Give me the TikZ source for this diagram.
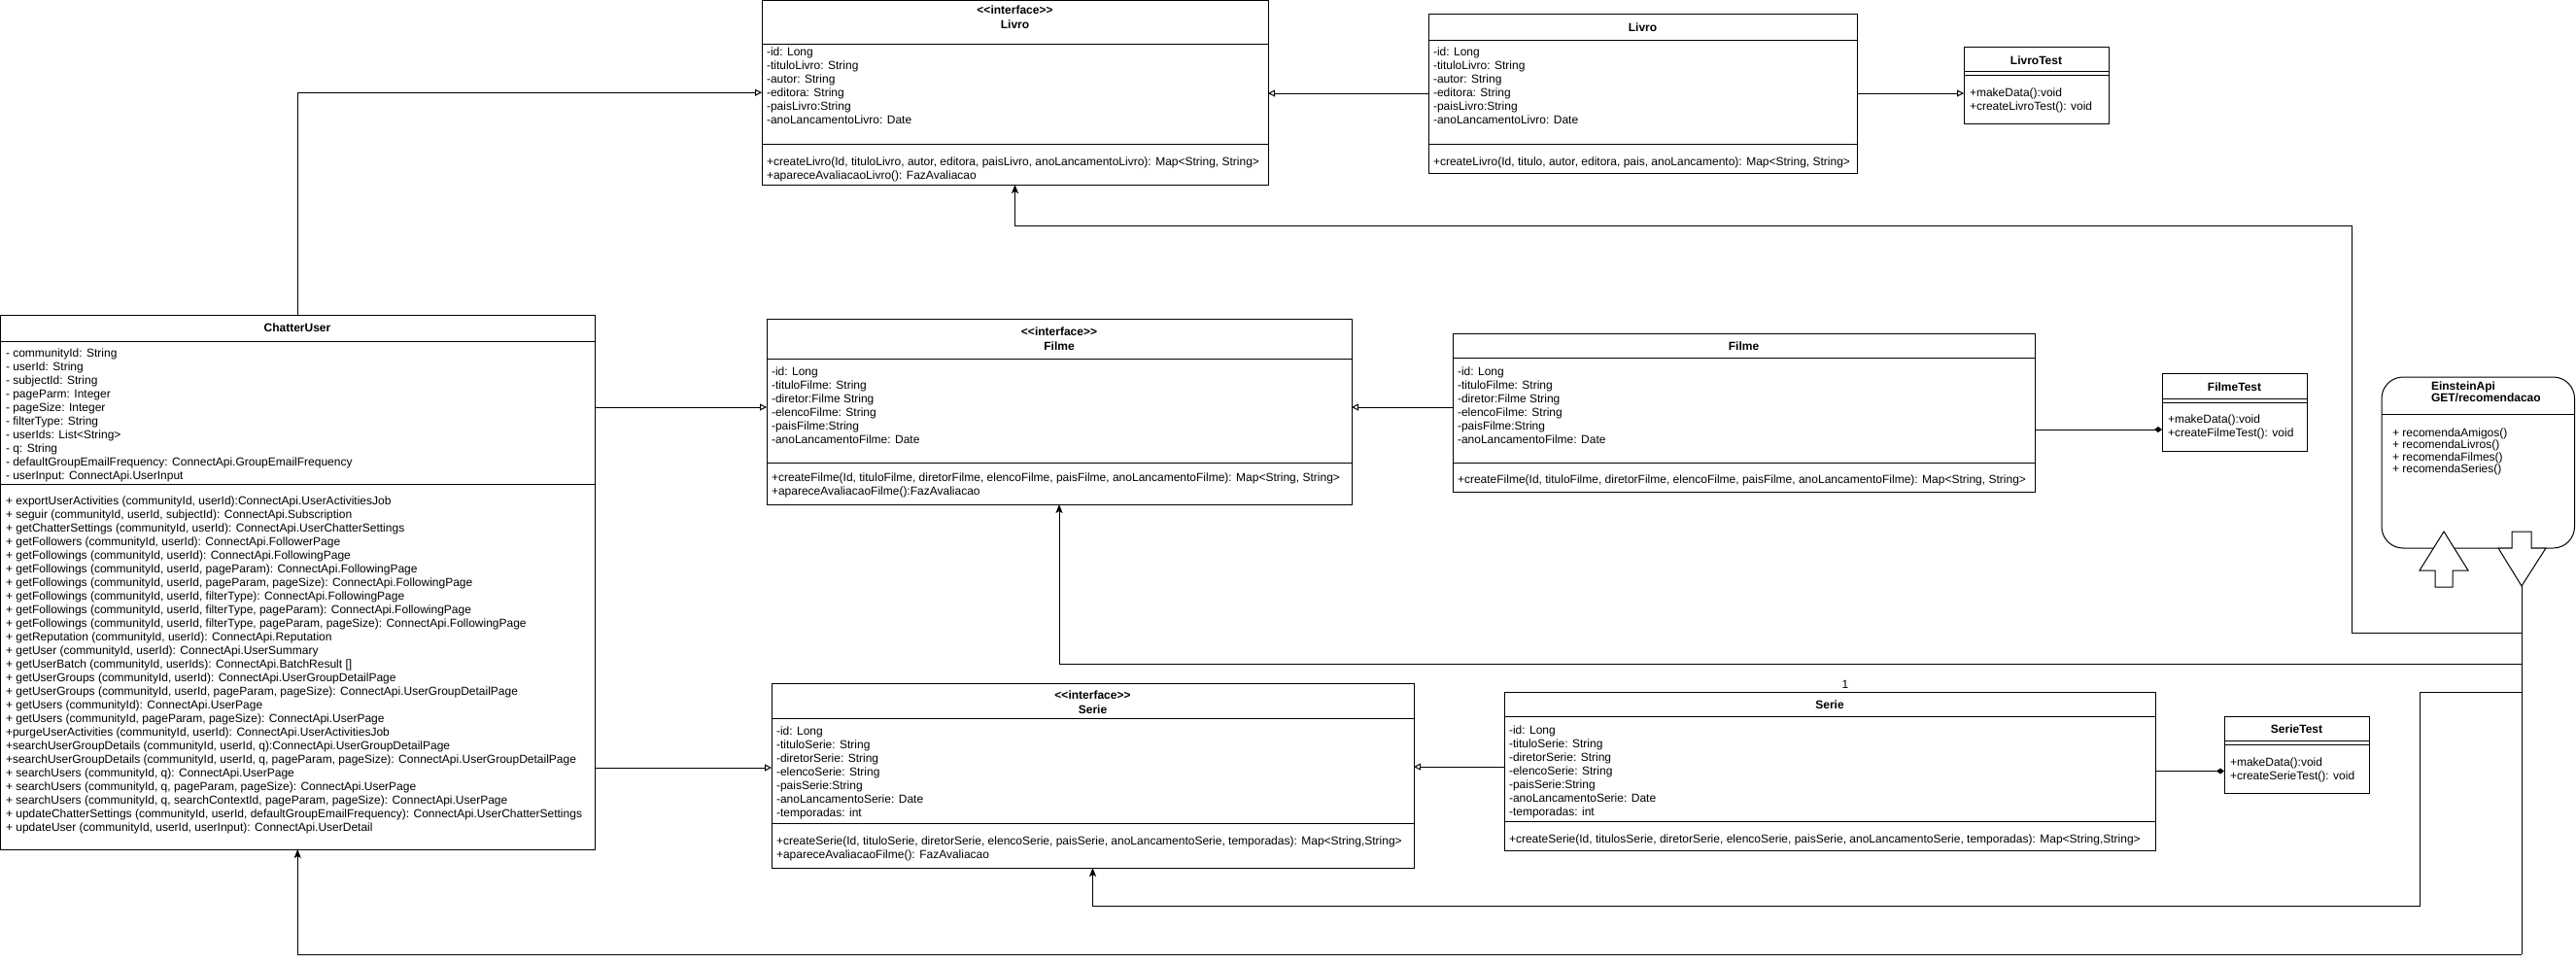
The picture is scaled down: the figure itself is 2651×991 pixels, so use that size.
\documentclass[tikz,border=0pt]{standalone}
\usepackage{fontspec}
\setmainfont{Liberation Sans}
\usetikzlibrary{arrows.meta,calc}
\newcommand\fl{\rule{0pt}{9pt}}
\begin{document}
\begin{tikzpicture}[x=1pt,y=-1pt,
  every node/.style={inner sep=0pt, outer sep=0pt},
  box/.style={draw, line width=1pt, anchor=north west, fill=white},
  txt/.style={anchor=north west, align=left, font=\fontsize{12}{14}\selectfont},
  etxt/.style={anchor=north west, align=left, font=\fontsize{12}{12.5}\selectfont},
  ttl/.style={align=center, font=\bfseries\fontsize{12}{15}\selectfont},
  sep/.style={line width=1pt},
  con/.style={line width=1pt},
  inh/.style={con, -{Triangle[open,length=7pt,width=7pt]}},
  dia/.style={con, -{Diamond[length=8pt,width=6pt]}},
  dep/.style={con, -{Stealth[length=9pt,width=7pt,inset=2pt]}},
]
\useasboundingbox (0,0) rectangle (2651,991);
\fill[white] (0,0) rectangle (2651,991);

% ---------- Livro interface ----------
\node[box, minimum width=521pt, minimum height=189.5pt] (LI) at (784,0.5) {};
\draw[sep] (784,45) -- (1305,45);
\draw[sep] (784,148) -- (1305,148);
\node[ttl] (LIt) at (1044.5,18) {<{}<interface>{}>\\Livro};
\node[txt] (LIa) at (789,48) {\fl-id: Long\\-tituloLivro: String\\-autor: String\\-editora: String\\-paisLivro:String\\-anoLancamentoLivro: Date};
\node[txt] (LIm) at (789,161) {\fl+createLivro(Id, tituloLivro, autor, editora, paisLivro, anoLancamentoLivro): Map<String, String>\\+apareceAvaliacaoLivro(): FazAvaliacao};

% ---------- Livro class ----------
\node[box, minimum width=441pt, minimum height=164pt] (LC) at (1470,14) {};
\draw[sep] (1470,41) -- (1911,41);
\draw[sep] (1470,148) -- (1911,148);
\node[ttl] (LCt) at (1690.5,28) {Livro};
\node[txt] (LCa) at (1475,48) {\fl-id: Long\\-tituloLivro: String\\-autor: String\\-editora: String\\-paisLivro:String\\-anoLancamentoLivro: Date};
\node[txt] (LCm) at (1475,161) {\fl+createLivro(Id, titulo, autor, editora, pais, anoLancamento): Map<String, String>};

% ---------- LivroTest ----------
\node[box, minimum width=149pt, minimum height=79pt] (LT) at (2021,48) {};
\draw[sep] (2021,73) -- (2170,73);
\draw[sep] (2021,77) -- (2170,77);
\node[ttl] (LTt) at (2095.5,62) {LivroTest};
\node[txt] (LTm) at (2027,90) {\fl+makeData():void\\+createLivroTest(): void};

% ---------- ChatterUser ----------
\node[box, minimum width=611.5pt, minimum height=550pt] (CU) at (0.5,324) {};
\draw[sep] (0.5,351) -- (612,351);
\draw[sep] (0.5,498) -- (612,498);
\node[ttl] (CUt) at (306,337.5) {ChatterUser};
\node[txt] (CUa) at (6,358) {\fl- communityId: String\\- userId: String\\- subjectId: String\\- pageParm: Integer\\- pageSize: Integer\\- filterType: String\\- userIds: List<String>\\- q: String\\- defaultGroupEmailFrequency: ConnectApi.GroupEmailFrequency\\- userInput: ConnectApi.UserInput};
\node[txt] (CUm) at (6,510) {\fl+ exportUserActivities (communityId, userId):ConnectApi.UserActivitiesJob\\
+ seguir (communityId, userId, subjectId): ConnectApi.Subscription\\
+ getChatterSettings (communityId, userId): ConnectApi.UserChatterSettings\\
+ getFollowers (communityId, userId): ConnectApi.FollowerPage\\
+ getFollowings (communityId, userId): ConnectApi.FollowingPage\\
+ getFollowings (communityId, userId, pageParam): ConnectApi.FollowingPage\\
+ getFollowings (communityId, userId, pageParam, pageSize): ConnectApi.FollowingPage\\
+ getFollowings (communityId, userId, filterType): ConnectApi.FollowingPage\\
+ getFollowings (communityId, userId, filterType, pageParam): ConnectApi.FollowingPage\\
+ getFollowings (communityId, userId, filterType, pageParam, pageSize): ConnectApi.FollowingPage\\
+ getReputation (communityId, userId): ConnectApi.Reputation\\
+ getUser (communityId, userId): ConnectApi.UserSummary\\
+ getUserBatch (communityId, userIds): ConnectApi.BatchResult {[]}\\
+ getUserGroups (communityId, userId): ConnectApi.UserGroupDetailPage\\
+ getUserGroups (communityId, userId, pageParam, pageSize): ConnectApi.UserGroupDetailPage\\
+ getUsers (communityId): ConnectApi.UserPage\\
+ getUsers (communityId, pageParam, pageSize): ConnectApi.UserPage\\
+purgeUserActivities (communityId, userId): ConnectApi.UserActivitiesJob\\
+searchUserGroupDetails (communityId, userId, q):ConnectApi.UserGroupDetailPage\\
+searchUserGroupDetails (communityId, userId, q, pageParam, pageSize): ConnectApi.UserGroupDetailPage\\
+ searchUsers (communityId, q): ConnectApi.UserPage\\
+ searchUsers (communityId, q, pageParam, pageSize): ConnectApi.UserPage\\
+ searchUsers (communityId, q, searchContextId, pageParam, pageSize): ConnectApi.UserPage\\
+ updateChatterSettings (communityId, userId, defaultGroupEmailFrequency): ConnectApi.UserChatterSettings\\
+ updateUser (communityId, userId, userInput): ConnectApi.UserDetail};

% ---------- Filme interface ----------
\node[box, minimum width=602pt, minimum height=191pt] (FI) at (789,328) {};
\draw[sep] (789,369) -- (1391,369);
\draw[sep] (789,476) -- (1391,476);
\node[ttl] (FIt) at (1090,349) {<{}<interface>{}>\\Filme};
\node[txt] (FIa) at (794,377) {\fl-id: Long\\-tituloFilme: String\\-diretor:Filme String\\-elencoFilme: String\\-paisFilme:String\\-anoLancamentoFilme: Date};
\node[txt] (FIm) at (794,486) {\fl+createFilme(Id, tituloFilme, diretorFilme, elencoFilme, paisFilme, anoLancamentoFilme): Map<String, String>\\+apareceAvaliacaoFilme():FazAvaliacao};

% ---------- Filme class ----------
\node[box, minimum width=599pt, minimum height=163pt] (FC) at (1495,343) {};
\draw[sep] (1495,368) -- (2094,368);
\draw[sep] (1495,476) -- (2094,476);
\node[ttl] (FCt) at (1794.5,356) {Filme};
\node[txt] (FCa) at (1500,377) {\fl-id: Long\\-tituloFilme: String\\-diretor:Filme String\\-elencoFilme: String\\-paisFilme:String\\-anoLancamentoFilme: Date};
\node[txt] (FCm) at (1500,488) {\fl+createFilme(Id, tituloFilme, diretorFilme, elencoFilme, paisFilme, anoLancamentoFilme): Map<String, String>};

% ---------- FilmeTest ----------
\node[box, minimum width=149pt, minimum height=80pt] (FT) at (2225,384) {};
\draw[sep] (2225,410) -- (2374,410);
\draw[sep] (2225,414) -- (2374,414);
\node[ttl] (FTt) at (2299.5,398) {FilmeTest};
\node[txt] (FTm) at (2231,426) {\fl+makeData():void\\+createFilmeTest(): void};

% ---------- Serie interface ----------
\node[box, minimum width=661pt, minimum height=190pt] (SI) at (794,703) {};
\draw[sep] (794,739) -- (1455,739);
\draw[sep] (794,847) -- (1455,847);
\node[ttl] (SIt) at (1124.5,723) {<{}<interface>{}>\\Serie};
\node[txt] (SIa) at (799,747) {\fl-id: Long\\-tituloSerie: String\\-diretorSerie: String\\-elencoSerie: String\\-paisSerie:String\\-anoLancamentoSerie: Date\\-temporadas: int};
\node[txt] (SIm) at (799,860) {\fl+createSerie(Id, tituloSerie, diretorSerie, elencoSerie, paisSerie, anoLancamentoSerie, temporadas): Map<String,String>\\+apareceAvaliacaoFilme(): FazAvaliacao};

% ---------- Serie class ----------
\node[box, minimum width=670pt, minimum height=163pt] (SC) at (1548,712) {};
\draw[sep] (1548,737) -- (2218,737);
\draw[sep] (1548,845) -- (2218,845);
\node[ttl] (SCt) at (1883,725) {Serie};
\node[font=\fontsize{12}{14}\selectfont] (one) at (1899,704) {1};
\node[txt] (SCa) at (1553,746) {\fl-id: Long\\-tituloSerie: String\\-diretorSerie: String\\-elencoSerie: String\\-paisSerie:String\\-anoLancamentoSerie: Date\\-temporadas: int};
\node[txt] (SCm) at (1553,858) {\fl+createSerie(Id, titulosSerie, diretorSerie, elencoSerie, paisSerie, anoLancamentoSerie, temporadas): Map<String,String>};

% ---------- SerieTest ----------
\node[box, minimum width=149pt, minimum height=79pt] (ST) at (2289,737) {};
\draw[sep] (2289,762) -- (2438,762);
\draw[sep] (2289,766) -- (2438,766);
\node[ttl] (STt) at (2363.5,750) {SerieTest};
\node[txt] (STm) at (2295,779) {\fl+makeData():void\\+createSerieTest(): void};

% ---------- EinsteinApi ----------
\node[draw, line width=1pt, fill=white, rounded corners=22pt, anchor=north west, minimum width=198.5pt, minimum height=176pt] (EA) at (2451,388) {};
\draw[sep] (2451,426) -- (2649.5,426);
\node[anchor=north west, align=left, font=\bfseries\fontsize{12}{12.5}\selectfont] (EAt) at (2502,392) {\fl EinsteinApi\\GET/recomendacao};
\node[etxt] (EAm) at (2462,440) {\fl+ recomendaAmigos()\\+ recomendaLivros()\\+ recomendaFilmes()\\+ recomendaSeries()};

% block arrows
\draw[line width=1pt, fill=white] (2515,547) -- (2540,587) -- (2524,587) -- (2524,604) -- (2506,604) -- (2506,587) -- (2490,587) -- cycle;
\draw[line width=1pt, fill=white] (2585,547) -- (2605,547) -- (2605,564) -- (2620,564) -- (2595,603) -- (2571,564) -- (2585,564) -- cycle;

% ---------- connectors ----------
\coordinate (fiL) at ($(FI.north west)+(0,91)$);
\coordinate (fiR) at ($(FI.north east)+(0,91)$);
\coordinate (siL) at ($(SI.north west)+(0,87)$);
\coordinate (siR) at ($(SI.north east)+(0,86)$);
\draw[inh] (CU.north) |- (LI.west);
\draw[inh] (LC.west) -- (LC.west -| LI.east);
\draw[inh] (LC.east) -- (LC.east -| LT.west);
\draw[inh] (fiL -| CU.east) -- (fiL);
\draw[inh] (fiR -| FC.west) -- (fiR);
\coordinate (ftin) at ($(FT.west)+(0,18)$);
\draw[dia] (ftin -| FC.east) -- (ftin);
\draw[inh] (siL -| CU.east) -- (siL);
\draw[inh] (siR -| SC.west) -- (siR);
\draw[dia] (SC.east) -- (SC.east -| ST.west);

\coordinate (dtip) at (2595,603);
\coordinate (j1) at (2595,651);
\coordinate (j2) at (2595,683);
\coordinate (j3) at (2595,712);
\coordinate (j4) at (2595,982);
\coordinate (k1) at (2420,651);
\coordinate (k2) at (2420,232);
\coordinate (m1) at (2490,712);
\coordinate (m2) at (2490,932);
\draw[con] (dtip) -- (j4);
\draw[dep] (j1) -- (k1) -- (k2) -| (LI.south);
\draw[dep] (j2) -| (FI.south);
\draw[dep] (j3) -- (m1) -- (m2) -| (SI.south);
\draw[dep] (j4) -| (CU.south);
\end{tikzpicture}
\end{document}
